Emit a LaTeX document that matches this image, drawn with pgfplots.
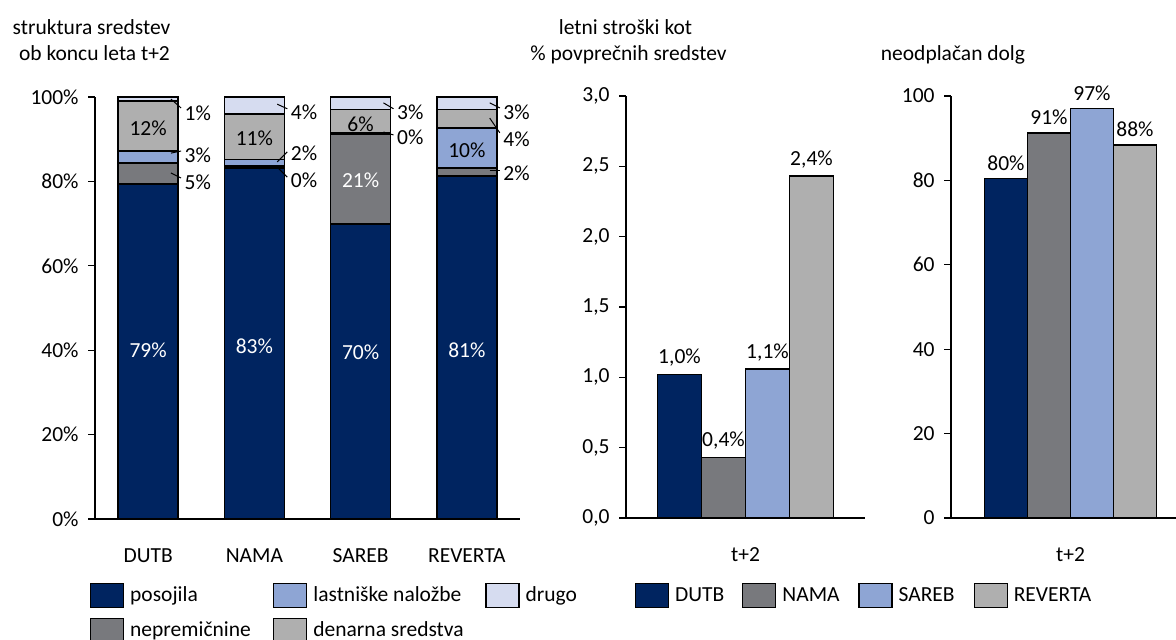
\documentclass[border=0pt]{standalone}
\usepackage{fontspec}
\setmainfont{Carlito}
\usepackage{pgfplots}
\usepackage{pgfplotstable}
\pgfplotsset{compat=1.18}
\definecolor{cNavy}{RGB}{0,36,96}
\definecolor{cDGray}{RGB}{120,121,125}
\definecolor{cLBlue}{RGB}{142,165,212}
\definecolor{cLGray}{RGB}{175,175,175}
\definecolor{cVLBlue}{RGB}{214,220,240}

\pgfplotstableread{
x pos nep las den dru
0 79.4 5.0 2.8 11.8 1.0
1 83.2 0.5 1.5 10.8 4.0
2 69.9 21.3 0.3 5.5 3.0
3 81.3 1.9 9.5 4.3 3.0
}\structtable

\pgfplotstableread{
x dutb nama sareb reverta
0 1.02 0.43 1.06 2.43
}\costtable

\pgfplotstableread{
x dutb nama sareb reverta
0 80.4 91.3 97.0 88.4
}\debttable

\pgfplotsset{
  myaxis/.style={
    scale only axis, anchor=south west,
    axis lines=left, axis line style={-, line width=0.6pt, black},
    tick align=outside, major tick length=3.5pt,
    ytick style={line width=0.6pt, black}, xtick style={draw=none},
    yticklabel style={anchor=east, inner sep=0pt, xshift=-4.5pt},
    xticklabel style={anchor=north, inner sep=0pt, text height=7pt, text depth=0pt, yshift=-11pt},
    /pgf/number format/assume math mode=true,
    clip=false,
    legend style={draw=none, fill=none, inner sep=0pt, outer sep=0pt, anchor=north west,
      row sep=5pt,
      nodes={inner sep=0pt, text height=8pt, text depth=2.5pt},
      /tikz/every odd column/.append style={column sep=3pt}},
  },
  barst/.style={draw=black, line width=0.8pt},
  sqleg/.style={legend image code/.code={\draw[##1] (0pt,-6pt) rectangle (16.5pt,6pt);}},
}

\begin{document}
\fontsize{10.75}{13}\selectfont
\begin{tikzpicture}
\useasboundingbox (0,0) rectangle (588pt,320pt);

% ---------- left: structure of assets ----------
\begin{axis}[myaxis, sqleg, at={(47.5pt,60.5pt)}, width=212.5pt, height=211pt,
  xmin=-0.5, xmax=3.5, ymin=0, ymax=100,
  ytick={0,20,40,60,80,100}, yticklabel={\pgfmathprintnumber{\tick}\%},
  xtick={0,1,2,3}, xticklabels={DUTB,NAMA,SAREB,REVERTA},
  ybar stacked, bar width=30pt,
  legend columns=3,
  legend style={at={(-0.0118,-0.1517)},
    /tikz/every even column/.append style={column sep=0pt}},
]
\addplot[barst, fill=cNavy, forget plot] table[x=x,y=pos]{\structtable};
\addplot[barst, fill=cDGray, forget plot] table[x=x,y=nep]{\structtable};
\addplot[barst, fill=cLBlue, forget plot] table[x=x,y=las]{\structtable};
\addplot[barst, fill=cLGray, forget plot] table[x=x,y=den]{\structtable};
\addplot[barst, fill=cVLBlue, forget plot] table[x=x,y=dru]{\structtable};

\addlegendimage{sqleg, fill=cNavy, draw=black, line width=0.6pt}
\addlegendentry{\makebox[71.5pt][l]{posojila}}
\addlegendimage{sqleg, fill=cLBlue, draw=black, line width=0.6pt}
\addlegendentry{\makebox[86pt][l]{lastniške naložbe}}
\addlegendimage{sqleg, fill=cVLBlue, draw=black, line width=0.6pt}
\addlegendentry{drugo}
\addlegendimage{sqleg, fill=cDGray, draw=black, line width=0.6pt}
\addlegendentry{\makebox[71.5pt][l]{nepremičnine}}
\addlegendimage{sqleg, fill=cLGray, draw=black, line width=0.6pt}
\addlegendentry{\makebox[86pt][l]{denarna sredstva}}
\end{axis}

% overlay axis (same geometry) for the value labels, drawn above the bars
\begin{axis}[at={(47.5pt,60.5pt)}, anchor=south west, scale only axis,
  width=212.5pt, height=211pt, xmin=-0.5, xmax=3.5, ymin=0, ymax=100,
  hide axis, clip=false]
\node[text=white] at (axis cs:0,40.0) {79\%};
\node[text=white] at (axis cs:1,41.0) {83\%};
\node[text=white] at (axis cs:2,39.5) {70\%};
\node[text=white] at (axis cs:3,40.0) {81\%};
\node at (axis cs:0,92.7) {12\%};
\node at (axis cs:1,90.3) {11\%};
\node[text=white] at (axis cs:2,80.3) {21\%};
\node at (axis cs:2,93.6) {6\%};
\node at (axis cs:3,87.4) {10\%};

\draw[line width=0.5pt] (axis cs:0.215,99.5) -- (axis cs:0.31,97.4);
\node[anchor=west,inner sep=0pt] at (axis cs:0.34,96.2) {1\%};
\draw[line width=0.5pt] (axis cs:0.215,86.7) -- (axis cs:0.31,87.2);
\node[anchor=west,inner sep=0pt] at (axis cs:0.34,86.3) {3\%};
\draw[line width=0.5pt] (axis cs:0.215,82.0) -- (axis cs:0.31,80.8);
\node[anchor=west,inner sep=0pt] at (axis cs:0.34,79.9) {5\%};

\draw[line width=0.5pt] (axis cs:1.215,98.3) -- (axis cs:1.31,97.2);
\node[anchor=west,inner sep=0pt] at (axis cs:1.34,96.4) {4\%};
\draw[line width=0.5pt] (axis cs:1.215,84.6) -- (axis cs:1.31,87.0);
\node[anchor=west,inner sep=0pt] at (axis cs:1.34,86.7) {2\%};
\draw[line width=0.5pt] (axis cs:1.215,83.4) -- (axis cs:1.31,81.0);
\node[anchor=west,inner sep=0pt] at (axis cs:1.34,80.3) {0\%};

\draw[line width=0.5pt] (axis cs:2.215,98.6) -- (axis cs:2.31,97.2);
\node[anchor=west,inner sep=0pt] at (axis cs:2.34,96.4) {3\%};
\draw[line width=0.5pt] (axis cs:2.215,91.7) -- (axis cs:2.31,91.0);
\node[anchor=west,inner sep=0pt] at (axis cs:2.34,90.5) {0\%};

\draw[line width=0.5pt] (axis cs:3.215,98.6) -- (axis cs:3.31,97.4);
\node[anchor=west,inner sep=0pt] at (axis cs:3.34,96.4) {3\%};
\draw[line width=0.5pt] (axis cs:3.215,95.0) -- (axis cs:3.31,91.5);
\node[anchor=west,inner sep=0pt] at (axis cs:3.34,90.1) {4\%};
\draw[line width=0.5pt] (axis cs:3.215,82.5) -- (axis cs:3.31,82.5);
\node[anchor=west,inner sep=0pt] at (axis cs:3.34,82.0) {2\%};
\end{axis}

% ---------- middle: annual costs ----------
\begin{axis}[myaxis, sqleg, at={(313pt,61pt)}, width=119.5pt, height=211pt,
  xmin=-1, xmax=1, ymin=0, ymax=3,
  ytick={0,0.5,1,1.5,2,2.5,3},
  yticklabel style={/pgf/number format/.cd, fixed, fixed zerofill, precision=1, use comma},
  xtick={0}, xticklabels={t+2},
  ybar=0pt, bar width=22pt,
  nodes near coords={\pgfmathprintnumber[fixed,fixed zerofill,precision=1,use comma]{\pgfplotspointmeta}\%},
  legend columns=4,
  legend style={at={(0.0377,-0.154)},
    /tikz/every even column/.append style={column sep=0pt}},
]
\addplot[barst, fill=cNavy, forget plot, bar shift=-33pt] table[x=x,y=dutb]{\costtable};
\addplot[barst, fill=cDGray, forget plot, bar shift=-11pt] table[x=x,y=nama]{\costtable};
\addplot[barst, fill=cLBlue, forget plot, bar shift=11pt] table[x=x,y=sareb]{\costtable};
\addplot[barst, fill=cLGray, forget plot, bar shift=33pt] table[x=x,y=reverta]{\costtable};
\addlegendimage{sqleg, fill=cNavy, draw=black, line width=0.6pt}
\addlegendentry{\makebox[33.5pt][l]{DUTB}}
\addlegendimage{sqleg, fill=cDGray, draw=black, line width=0.6pt}
\addlegendentry{\makebox[38pt][l]{NAMA}}
\addlegendimage{sqleg, fill=cLBlue, draw=black, line width=0.6pt}
\addlegendentry{\makebox[37.5pt][l]{SAREB}}
\addlegendimage{sqleg, fill=cLGray, draw=black, line width=0.6pt}
\addlegendentry{REVERTA}
\end{axis}

% ---------- right: outstanding debt ----------
\begin{axis}[myaxis, at={(475.5pt,61pt)}, width=119.5pt, height=211pt,
  xmin=-1, xmax=1, ymin=0, ymax=100,
  ytick={0,20,40,60,80,100},
  xtick={0}, xticklabels={t+2},
  ybar=0pt, bar width=21.5pt,
  nodes near coords={\pgfmathprintnumber[fixed,precision=0]{\pgfplotspointmeta}\%},
]
\addplot[barst, fill=cNavy] table[x=x,y=dutb]{\debttable};
\addplot[barst, fill=cDGray] table[x=x,y=nama]{\debttable};
\addplot[barst, fill=cLBlue] table[x=x,y=sareb]{\debttable};
\addplot[barst, fill=cLGray] table[x=x,y=reverta]{\debttable};
\end{axis}

% ---------- titles ----------
\node[anchor=base] at (45.75pt,302.5pt) {struktura sredstev};
\node[anchor=base] at (47.25pt,289.5pt) {ob koncu leta t+2};
\node[anchor=base] at (312.75pt,302.5pt) {letni stroški kot};
\node[anchor=base] at (314.25pt,289.5pt) {\% povprečnih sredstev};
\node[anchor=base] at (476.5pt,289.5pt) {neodplačan dolg};
\end{tikzpicture}
\end{document}
